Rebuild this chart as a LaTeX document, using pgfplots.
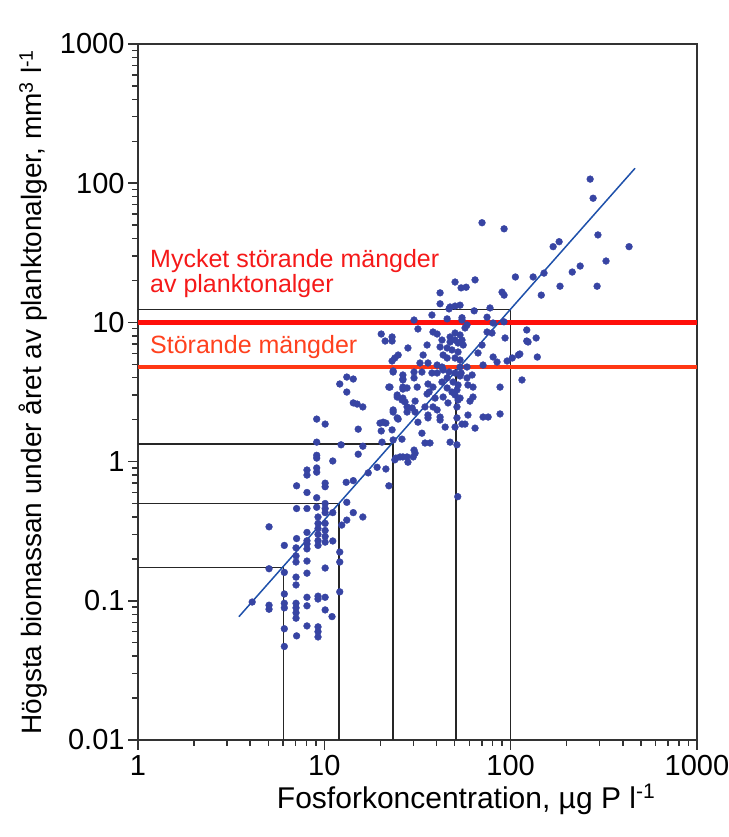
\documentclass[border=0pt]{standalone}
\usepackage{fontspec}
\setmainfont{Liberation Sans}
\usepackage{pgfplots}
\pgfplotsset{compat=1.18}
\definecolor{dotblue}{RGB}{55,68,163}
\definecolor{lineblue}{RGB}{30,80,170}
\definecolor{redA}{RGB}{255,15,10}
\definecolor{redB}{RGB}{255,55,20}
\definecolor{txtA}{RGB}{245,25,25}
\definecolor{txtB}{RGB}{255,65,30}
\begin{document}
\begin{tikzpicture}
\begin{axis}[
  xmode=log, ymode=log,
  scale only axis, width=559pt, height=696pt,
  xmin=1, xmax=1000, ymin=0.01, ymax=1000,
  xtick={1,10,100,1000}, xticklabels={1,10,100,1000},
  ytick={0.01,0.1,1,10,100,1000}, yticklabels={0.01,0.1,1,10,100,1000},
  tick align=outside, tick pos=left,
  major tick length=10pt, minor tick length=6pt,
  axis line style={line width=1.6pt, black!80},
  every tick/.style={line width=1.4pt, black!80},
  tick label style={font=\fontsize{29}{34}\selectfont},
  xticklabel style={yshift=-4pt, inner sep=1pt},
  xlabel={Fosforkoncentration, µg P l\textsuperscript{-1}},
  ylabel={Högsta biomassan under året av planktonalger, mm\textsuperscript{3} l\textsuperscript{-1}},
  label style={font=\fontsize{28}{34}\selectfont},
  xlabel style={at={(axis description cs:0.587,-0.0977)}, anchor=base, inner sep=0pt, font=\fontsize{30}{36}\selectfont},
  ylabel style={at={(axis description cs:-0.172,0.5)}, anchor=base},
]
% reference lines
\addplot[black!85, line width=1.5pt] coordinates {(1,0.174) (6.05,0.174) (6.05,0.01)};
\addplot[black!85, line width=1.5pt] coordinates {(1,0.50) (12.0,0.50) (12.0,0.01)};
\addplot[black!85, line width=1.5pt] coordinates {(1,1.34) (23.3,1.34) (23.3,0.01)};
\addplot[black!85, line width=1.5pt] coordinates {(1,4.70) (50.9,4.70) (50.9,0.01)};
\addplot[black!85, line width=1.5pt] coordinates {(1,12.4) (100,12.4) (100,0.01)};
% threshold lines
\addplot[redA, line width=5pt] coordinates {(1,10) (1000,10)};
\addplot[redB, line width=4.5pt] coordinates {(1,4.8) (1000,4.8)};
% data
\addplot[only marks, mark=*, mark size=3.4pt, color=dotblue] coordinates {
(7.1,0.67) (7.1,0.46) (5.05,0.34) (6.1,0.25) (7.1,0.28) (7.05,0.24) (7.05,0.21) (7.05,0.19) (5.05,0.17) (6.1,0.16) (7.05,0.148) (7.05,0.13) (6.1,0.112) (4.1,0.098) (5.05,0.093) (5.05,0.087) (6.1,0.096) (6.1,0.089) (7.05,0.096) (7.05,0.089) (7.05,0.082) (7.05,0.075) (6.1,0.063) (7.1,0.056) (6.1,0.047)
(8.07,0.31) (8.07,0.27) (8.07,0.256) (8.07,0.236) (8.07,0.193) (8.07,0.158) (8.07,0.106) (8.07,0.092) (8.07,0.066) (9.25,0.27) (9.25,0.25) (10.1,0.29) (10.1,0.264) (11.1,0.269) (10.1,0.172) (9.25,0.108) (9.25,0.103) (10.1,0.106) (10.1,0.086) (11.0,0.077) (9.25,0.065) (9.25,0.06) (9.25,0.055) (12.1,0.224) (12.1,0.19) (12.1,0.116) (9.25,0.33) (10.1,0.32) (9.25,0.30)
(13.2,4.05) (14.3,3.92) (12.1,3.61) (13.2,3.16) (14.3,2.64) (15.0,2.59) (16.1,2.47) (9.1,2.02) (10.1,1.86) (15.2,1.71) (9.1,1.38) (12.3,1.32) (16.1,1.29) (9.1,1.11) (9.1,1.06) (11.1,1.01) (15.2,1.13) (9.1,0.90) (9.1,0.84) (8.07,0.87) (8.07,0.80) (10.1,0.70) (10.1,0.66) (13.1,0.71) (14.3,0.73) (8.07,0.60) (9.1,0.55) (9.1,0.47) (10.1,0.50) (10.1,0.46) (10.1,0.43) (11.1,0.43) (8.07,0.46) (13.2,0.51) (14.3,0.43) (16.1,0.40) (12.4,0.35) (9.25,0.40) (9.25,0.36) (10.1,0.36) (13.2,0.38)
(19.9,1.89) (20.7,1.92) (21.4,1.89) (20.2,1.66) (22.2,3.43) (23.4,4.40) (23.4,2.27) (24.6,3.01) (24.9,2.02) (26.4,3.86) (26.4,3.43) (26.4,2.86) (26.1,1.45) (24.2,1.06) (26.4,1.08) (27.8,1.08) (19.2,0.91) (21.4,0.885) (17.2,0.83) (22.2,0.67) (27.8,2.27) (20.4,1.38) (27.1,2.68)
(41.8,16.3) (41.8,13.6) (47.3,12.9) (50.3,13.1) (53.5,13.3) (37.8,11.3) (30.3,10.4) (45.6,10.6) (54.8,10.4) (20.2,8.25) (21.2,7.35) (23.1,7.86) (23.1,7.35) (31.8,8.97) (38.3,8.53) (40.3,8.25) (50.3,8.39) (53.5,8.12) (42.8,7.47) (47.3,7.23) (50.3,7.47) (52.2,7.11) (28.1,6.55) (35.6,6.88) (41.8,6.66) (45.6,6.55) (48.4,6.34) (52.2,6.13) (24.9,5.83) (23.9,5.55) (23.1,5.28) (33.9,5.83) (43.4,5.83) (45.6,5.55) (50.3,5.55) (53.5,5.37) (32.6,5.11) (36.0,5.11) (40.3,4.94) (42.8,4.78) (53.5,4.78) (23.4,4.48) (30.3,4.40) (33.4,4.40) (37.8,4.33) (40.3,4.33) (43.4,4.55) (46.7,4.40) (50.3,4.33) (54.2,4.33) (26.4,4.19)
(26.4,3.92) (30.3,3.99) (22.5,3.43) (26.4,3.32) (27.8,3.38) (31.5,3.43) (36.0,3.61) (38.3,3.43) (42.8,3.73) (45.6,3.99) (49.1,3.73) (52.2,3.55) (51.5,3.27) (24.6,2.91) (26.1,2.77) (30.7,2.72) (35.6,3.06) (36.5,3.16) (39.3,2.86) (43.4,2.91) (50.3,3.01) (52.2,2.77) (23.4,2.35) (27.8,2.47) (29.6,2.43) (30.7,2.27) (34.7,2.47) (38.3,2.47) (40.3,2.35) (46.1,2.64) (51.5,2.47) (24.6,2.06) (31.8,1.92) (36.0,2.16) (36.0,2.06) (41.8,2.09) (41.8,1.99) (51.5,2.06) (54.8,1.86) (23.1,1.69) (33.4,1.60) (44.5,1.77) (50.3,1.77) (34.7,1.36) (36.9,1.36) (47.3,1.38) (51.5,1.32) (30.3,1.21) (30.7,1.15) (25.5,1.08) (28.1,0.99) (23.9,1.03) (23.4,1.43) (30.0,1.08)
(50.3,19.5) (54.2,17.7) (57.7,17.9) (64.4,20.2) (106,21.2) (89.9,16.5) (92.2,15.7) (46.7,12.5) (54.8,10.8) (63.7,12.1) (74.7,10.9) (77.5,12.7) (92,10.1) (80.5,9.9) (58.3,9.58) (56.9,9.12) (47.3,7.86) (54.8,7.47) (55.6,6.88) (74.7,8.53) (79.4,8.39) (93.3,7.73) (122,8.82) (122,7.35) (70.2,6.88) (66.8,6.03) (80.5,5.64) (84.5,5.19) (95.7,5.28) (102,5.55) (110,5.83) (71.1,4.94) (58.3,4.78) (53.5,4.12) (58.3,3.99) (62.1,4.19) (115,3.86) (59,3.55) (62.8,3.43) (87.7,3.43) (45.6,3.38) (48.4,3.16) (62.8,2.91) (60.5,2.72) (53.5,2.86) (59,2.16) (71.1,2.09) (75.7,2.09) (87.7,2.20) (56.9,1.86) (64.4,1.74)
(146,15.7) (124,7.23) (137,7.73) (112,5.93) (139,5.64)
(267,107) (277,78) (70.2,52) (92.2,47) (294,42.5) (169,35) (182,38) (432,35) (325,27.6) (236,25.4) (214,23) (132,21.2) (151,22.6) (184,18.2) (291,18.2)
(52,0.56)
};
% regression line
\addplot[lineblue, line width=1.5pt] coordinates {(3.48,0.0769) (465,128)};
% annotations
\node[anchor=base west, inner sep=0pt, text=txtA, font=\fontsize{25}{30}\selectfont] at (axis cs:1.16,24.6) {Mycket störande mängder};
\node[anchor=base west, inner sep=0pt, text=txtA, font=\fontsize{25}{30}\selectfont] at (axis cs:1.16,16.5) {av planktonalger};
\node[anchor=base west, inner sep=0pt, text=txtB, font=\fontsize{25}{30}\selectfont] at (axis cs:1.16,5.93) {Störande mängder};
\end{axis}
\pgfresetboundingbox
\path ([shift={(-138pt,-97pt)}]current axis.south west) rectangle ([shift={(31pt,44pt)}]current axis.north east);
\end{tikzpicture}
\end{document}
